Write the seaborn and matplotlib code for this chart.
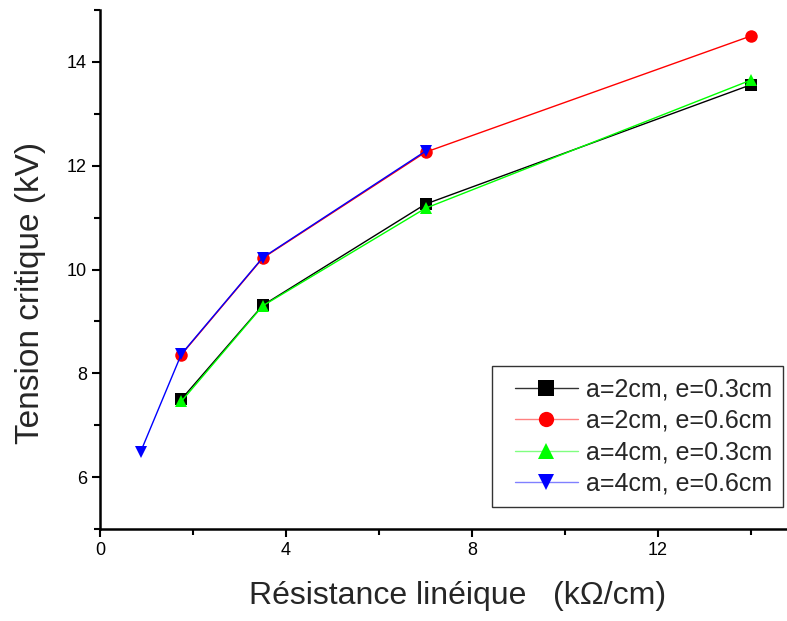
import pandas as pd
import numpy as np
import seaborn as sns
import matplotlib.pyplot as plt
from matplotlib.ticker import MultipleLocator
from matplotlib.lines import Line2D
from matplotlib.legend_handler import HandlerLine2D

# ==============================
# DATA
# ==============================
x_a2_e03 = [1.75, 3.5, 7.0, 14.0]
y_a2_e03 = [7.50, 9.31, 11.26, 13.56]

x_a2_e06 = [1.75, 3.5, 7.0, 14.0]
y_a2_e06 = [8.36, 10.22, 12.26, 14.50]

x_a4_e03 = [1.75, 3.5, 7.0, 14.0]
y_a4_e03 = [7.46, 9.30, 11.18, 13.65]

x_a4_e06 = [0.875, 1.75, 3.5, 7.0]
y_a4_e06 = [6.49, 8.37, 10.23, 12.28]

labels = ["a=2cm, e=0.3cm", "a=2cm, e=0.6cm", "a=4cm, e=0.3cm", "a=4cm, e=0.6cm"]
colors = ["black", "#ff0000", "#00ff00", "#0000ff"]
legend_line_colors = ["#333333", "#ff8080", "#80ff80", "#8080ff"]
markers = ["s", "o", "^", "v"]

series = [(x_a2_e03, y_a2_e03), (x_a2_e06, y_a2_e06),
          (x_a4_e03, y_a4_e03), (x_a4_e06, y_a4_e06)]

df = pd.concat([pd.DataFrame({"R": xs, "V": ys, "serie": lab})
                for (xs, ys), lab in zip(series, labels)], ignore_index=True)

# ==============================
# THEME
# ==============================
sns.set_theme(style="ticks")
plt.rcParams['font.family'] = ['Liberation Sans', 'DejaVu Sans']

fig = plt.figure(figsize=(7.87, 6.21), dpi=100)
ax = fig.add_axes([100 / 787, 1 - 529 / 621, 687 / 787, 519 / 621])

sns.lineplot(data=df, x="R", y="V", hue="serie", style="serie",
             hue_order=labels, style_order=labels,
             palette=dict(zip(labels, colors)),
             markers=dict(zip(labels, markers)), dashes=False,
             markersize=9, markeredgewidth=0, linewidth=1,
             sort=False, ax=ax)

ax.set_xlim(0, 687 / 46.5)
ax.set_ylim(5, 15)
ax.xaxis.set_major_locator(MultipleLocator(4))
ax.xaxis.set_minor_locator(MultipleLocator(2))
ax.yaxis.set_major_locator(MultipleLocator(2))
ax.yaxis.set_minor_locator(MultipleLocator(1))
ax.tick_params(which="major", direction="out", length=6, width=1.5,
               labelsize=13, color="black", labelcolor="black")
ax.tick_params(which="minor", direction="out", length=4, width=1.5, color="black")

for side in ["top", "right"]:
    ax.spines[side].set_visible(False)
for side in ["left", "bottom"]:
    ax.spines[side].set_linewidth(1.8)
    ax.spines[side].set_color("black")

ax.set_xlabel("Résistance linéique   (kΩ/cm)", fontsize=23)
ax.set_ylabel("Tension critique (kV)", fontsize=24)
ax.xaxis.set_label_coords(0.52, -0.10)
ax.yaxis.set_label_coords(-0.078, 0.455)

leg = ax.legend(loc="upper left", bbox_to_anchor=(392 / 687, 1 - 356 / 519),
                borderaxespad=0, fontsize=18, frameon=True, fancybox=False,
                edgecolor="black", handlelength=3.0, borderpad=0.45,
                labelspacing=0.3, handletextpad=0.3,
                handler_map={Line2D: HandlerLine2D(xpad=0.45)})
leg.get_frame().set_linewidth(1.0)
for h, lc, c in zip(leg.get_lines(), legend_line_colors, colors):
    h.set_color(lc)
    h.set_markerfacecolor(c)
    h.set_markeredgecolor(c)
    h.set_markersize(11)

fig.savefig("out.png", dpi=100)
plt.close()
